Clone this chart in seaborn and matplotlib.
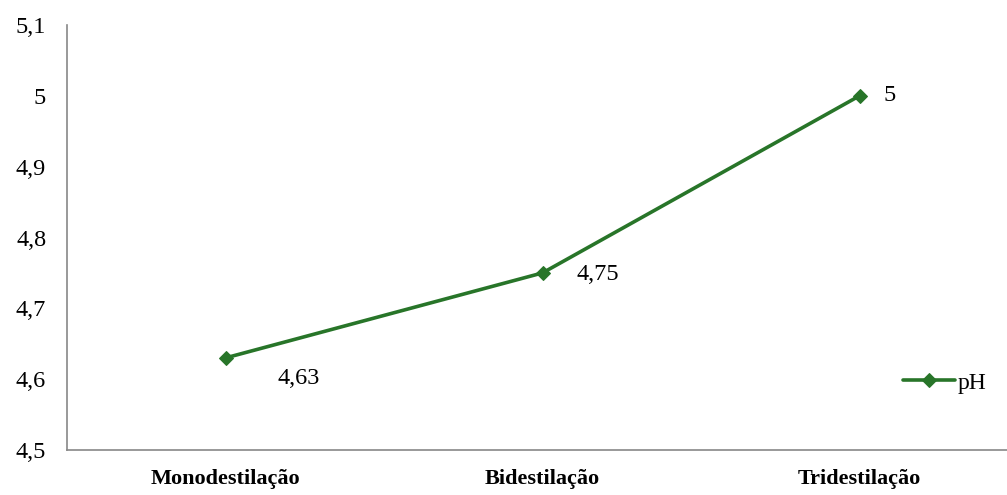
import matplotlib
matplotlib.use("Agg")
import matplotlib.pyplot as plt
import seaborn as sns
import pandas as pd
from matplotlib.ticker import FixedLocator

categories = ["Monodestilação", "Bidestilação", "Tridestilação"]
ph_values = [4.63, 4.75, 5.0]
y_ticks = [4.5, 4.6, 4.7, 4.8, 4.9, 5.0, 5.1]
series_name = "pH"

sns.set_theme(style="white")
plt.rcParams["font.family"] = ["Liberation Serif", "DejaVu Serif"]
plt.rcParams["text.color"] = "black"
plt.rcParams["xtick.color"] = "black"
plt.rcParams["ytick.color"] = "black"

df = pd.DataFrame({"Processo": categories, series_name: ph_values})

fig = plt.figure(figsize=(10.07, 4.95), dpi=100)
ax = fig.add_axes([67 / 1007, 1 - 450 / 495, 951 / 1007, 425 / 495])

green = "#287529"
sns.lineplot(data=df, x="Processo", y=series_name, ax=ax, color=green,
             linewidth=2.6, marker="D", markersize=7, markeredgecolor=green,
             label=series_name, sort=False)

ax.set_xlim(-0.5, 2.5)
ax.set_ylim(4.5, 5.1)
ax.set_yticks(y_ticks)
ax.set_yticklabels([f"{v:g}".replace(".", ",") for v in y_ticks], fontsize=17.5)
ax.set_xticks(range(len(categories)))
ax.set_xticklabels(categories, fontsize=16, fontweight="bold")
ax.xaxis.set_minor_locator(FixedLocator([-0.5, 0.5, 1.5]))
ax.tick_params(axis="x", which="major", length=0, pad=14, labelcolor="black")
ax.tick_params(axis="x", which="minor", length=6, width=1, color="#888888", direction="out")
ax.tick_params(axis="y", length=7, width=1, color="#888888", direction="out", pad=8,
               labelcolor="black")
ax.set_xlabel("")
ax.set_ylabel("")

for side in ["top", "right"]:
    ax.spines[side].set_visible(False)
for side in ["left", "bottom"]:
    ax.spines[side].set_color("#888888")
    ax.spines[side].set_linewidth(1.2)

# data labels
offsets = [(53, -15), (40, -1), (22, 0)]
for i, (v, off) in enumerate(zip(ph_values, offsets)):
    ax.annotate(f"{v:g}".replace(".", ","), (i, v), xytext=off,
                textcoords="offset points", ha="center", va="center",
                fontsize=17.5, color="black")

leg = ax.legend(loc="center left", bbox_to_anchor=(836 / 951, (450 - 383) / 425),
                frameon=False, fontsize=17, handlelength=2.2, handletextpad=0.1,
                borderaxespad=0, borderpad=0)
for t in leg.get_texts():
    t.set_color("black")

fig.savefig("out.png", dpi=100)
